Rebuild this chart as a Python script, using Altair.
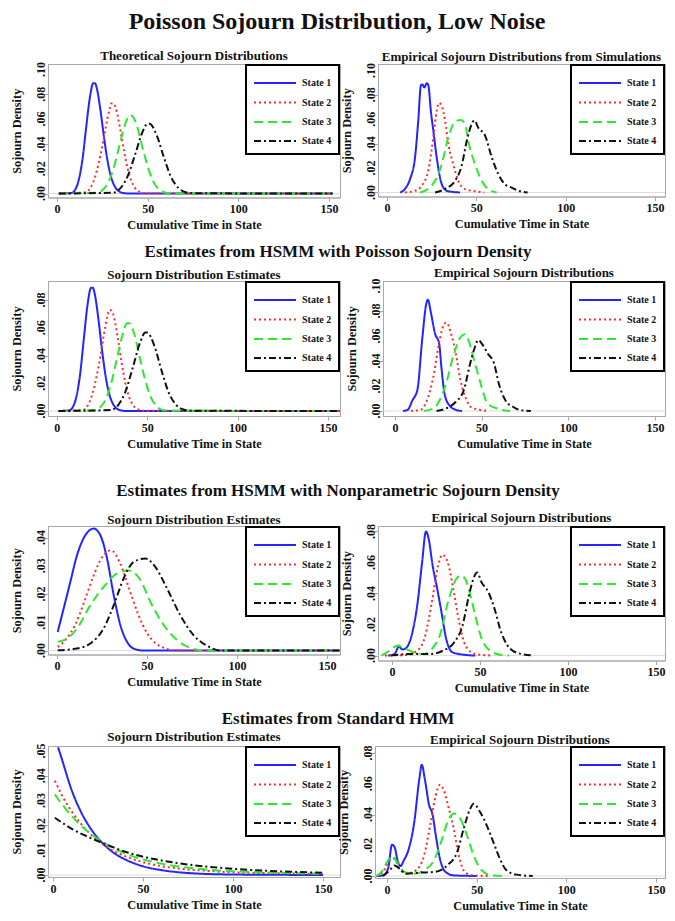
import altair as alt
import pandas as pd

SERIF = "Liberation Serif"
STATES = ["State 1", "State 2", "State 3", "State 4"]
COLORS = ["#2424ff", "#ff2a2a", "#2ee82e", "#111111"]
DASHES = [[1, 0], [2, 3], [9, 5], [7, 3, 2, 3]]

MAIN_TITLE = "Poisson Sojourn Distribution, Low Noise"
SECTION_TITLES = ["Estimates from HSMM with Poisson Sojourn Density",
                  "Estimates from HSMM with Nonparametric Sojourn Density",
                  "Estimates from Standard HMM"]
PANEL_TITLES = ["Theoretical Sojourn Distributions",
                "Empirical Sojourn Distributions from Simulations",
                "Sojourn Distribution Estimates", "Empirical Sojourn Distributions",
                "Sojourn Distribution Estimates", "Empirical Sojourn Distributions",
                "Sojourn Distribution Estimates", "Empirical Sojourn Distributions"]
X_TICKS = [0, 50, 100, 150]
Y_TICKS_10 = [0, 0.02, 0.04, 0.06, 0.08, 0.10]
Y_TICKS_08 = [0, 0.02, 0.04, 0.06, 0.08]
Y_TICKS_04 = [0, 0.01, 0.02, 0.03, 0.04]
Y_TICKS_05 = [0, 0.01, 0.02, 0.03, 0.04, 0.05]

# ---- Panel 1: theoretical
P1_S1_X = [1, 8, 10, 12, 14, 16, 18, 20, 21, 22, 24, 26, 28, 30, 32, 34, 37, 40, 152]
P1_S1_Y = [0, 0.0005, 0.003, 0.011, 0.027, 0.052, 0.076, 0.0888, 0.0888, 0.0846, 0.0669, 0.0446, 0.0254, 0.0125, 0.0054, 0.002, 0.0003, 0, 0]
P1_S2_X = [1, 16, 19, 21, 23, 25, 27, 29, 30, 31, 33, 35, 37, 39, 41, 43, 46, 49, 152]
P1_S2_Y = [0, 0.001, 0.0061, 0.0134, 0.0245, 0.0383, 0.0544, 0.0679, 0.0726, 0.0726, 0.0659, 0.0508, 0.0341, 0.0199, 0.0102, 0.0046, 0.0011, 0.0002, 0]
P1_S3_X = [1, 22, 25, 28, 31, 34, 37, 40, 41, 44, 47, 50, 53, 56, 59, 63, 152]
P1_S3_Y = [0, 0.0006, 0.0026, 0.0081, 0.0193, 0.036, 0.053, 0.0629, 0.0629, 0.055, 0.038, 0.022, 0.010, 0.0037, 0.001, 0.0002, 0]
P1_S4_X = [1, 31, 35, 39, 43, 47, 50, 51, 55, 59, 63, 67, 71, 76, 152]
P1_S4_Y = [0, 0.0007, 0.0043, 0.014, 0.031, 0.049, 0.0563, 0.0563, 0.047, 0.029, 0.013, 0.0045, 0.0011, 0.0002, 0]

# ---- Panel 2: empirical from simulations
P2_S1_X = [7.3, 10.1, 12.9, 15.7, 17.5, 19.0, 19.8, 20.9, 22.2, 23.1, 24.6, 25.9, 27.8, 29.7, 31.5, 34.3, 40.9]
P2_S1_Y = [0, 0.003, 0.011, 0.029, 0.059, 0.088, 0.0885, 0.086, 0.0896, 0.088, 0.066, 0.051, 0.029, 0.012, 0.004, 0.001, 0]
P2_S2_X = [10, 15.7, 19.4, 23.1, 25.9, 27.8, 29.1, 30.6, 32.5, 34.3, 37.1, 39.9, 43.7, 49.3, 54.5]
P2_S2_Y = [0, 0.0014, 0.0055, 0.018, 0.045, 0.067, 0.0734, 0.071, 0.059, 0.040, 0.023, 0.0096, 0.0027, 0.001, 0]
P2_S3_X = [18.5, 23.1, 26.9, 30.6, 34.3, 38.1, 41.4, 43.7, 45.5, 49.3, 53, 56.7, 61.4]
P2_S3_Y = [0, 0.003, 0.0096, 0.023, 0.045, 0.058, 0.0595, 0.056, 0.042, 0.023, 0.0096, 0.0027, 0]
P2_S4_X = [26.9, 32.5, 38.1, 41.8, 44.6, 47.4, 48.9, 51.1, 54.9, 58.6, 62.3, 66, 69.8, 73.5, 78.7]
P2_S4_Y = [0, 0.003, 0.0096, 0.022, 0.042, 0.056, 0.059, 0.053, 0.0466, 0.029, 0.015, 0.0068, 0.004, 0.0014, 0]

# ---- Panel 3: HSMM Poisson estimates
P3_S1_X = [1, 7, 9, 11, 13, 15, 17, 19, 20, 21, 23, 25, 27, 29, 31, 33, 36, 39, 156.5]
P3_S1_Y = [0, 0.0005, 0.003, 0.011, 0.027, 0.052, 0.076, 0.0888, 0.0888, 0.0846, 0.0669, 0.0446, 0.0254, 0.0125, 0.0054, 0.002, 0.0003, 0, 0]
P3_S2_X = [1, 15, 18, 20, 22, 24, 26, 28, 29, 30, 32, 34, 36, 38, 40, 42, 45, 48, 156.5]
P3_S2_Y = [0, 0.001, 0.0061, 0.0134, 0.0245, 0.0383, 0.0544, 0.0679, 0.0726, 0.0726, 0.0659, 0.0508, 0.0341, 0.0199, 0.0102, 0.0046, 0.0011, 0.0002, 0]
P3_S3_X = [1, 21, 24, 27, 30, 33, 36, 39, 40, 43, 46, 49, 52, 55, 58, 62, 156.5]
P3_S3_Y = [0, 0.0006, 0.0026, 0.0081, 0.0193, 0.036, 0.053, 0.0632, 0.0632, 0.055, 0.038, 0.022, 0.010, 0.0037, 0.001, 0.0002, 0]
P3_S4_X = [1, 30, 34, 38, 42, 46, 49, 50, 54, 58, 62, 66, 70, 75, 156.5]
P3_S4_Y = [0, 0.0007, 0.0043, 0.014, 0.031, 0.049, 0.0565, 0.0565, 0.047, 0.029, 0.013, 0.0045, 0.0011, 0.0002, 0]

# ---- Panel 4: empirical (Poisson HSMM)
P4_S1_X = [4.6, 7.4, 10.1, 12.9, 15.7, 18.1, 19.0, 20.7, 23.1, 25.5, 26.8, 28.6, 31.4, 35.0, 38.7]
P4_S1_Y = [0, 0.001, 0.0086, 0.0166, 0.057, 0.086, 0.089, 0.079, 0.062, 0.054, 0.035, 0.0139, 0.0045, 0.001, 0]
P4_S2_X = [9.2, 14.8, 18.5, 22.1, 25.8, 28.6, 29.9, 32.3, 35.1, 37.8, 40.6, 44.3, 53.5]
P4_S2_Y = [0, 0.001, 0.0086, 0.027, 0.057, 0.070, 0.0706, 0.062, 0.046, 0.0246, 0.0112, 0.0027, 0]
P4_S3_X = [16.6, 22.1, 25.8, 29.5, 34.1, 37.8, 40.2, 42.4, 45.2, 48.9, 53.5, 59.0, 66.4]
P4_S3_Y = [0, 0.002, 0.0086, 0.022, 0.046, 0.059, 0.0615, 0.0567, 0.043, 0.0246, 0.0059, 0.002, 0]
P4_S4_X = [24, 29.5, 35, 39.7, 43.4, 46.1, 48, 50.7, 53.5, 57.2, 59.9, 63.7, 68.3, 72.9, 78.4]
P4_S4_Y = [0, 0.002, 0.0072, 0.0166, 0.038, 0.051, 0.0567, 0.0527, 0.046, 0.038, 0.022, 0.0086, 0.0032, 0.0005, 0]

# ---- Panel 5: HSMM nonparametric estimates
P5_S1_X = [0.4, 3.7, 7.4, 11.1, 15.7, 20.4, 24.1, 27.8, 31.5, 35.2, 38.9, 42.6, 48, 157]
P5_S1_Y = [0.0066, 0.0149, 0.0243, 0.0337, 0.0408, 0.0432, 0.0408, 0.0326, 0.0196, 0.009, 0.0031, 0.0007, 0, 0]
P5_S2_X = [0.4, 5, 10, 15, 20, 25, 30, 35, 40, 45, 50, 55, 60, 66, 157]
P5_S2_Y = [0.0013, 0.004, 0.009, 0.017, 0.026, 0.033, 0.0355, 0.031, 0.022, 0.013, 0.0062, 0.0025, 0.0008, 0, 0]
P5_S3_X = [0.4, 5.6, 11.1, 18.5, 25.9, 33.3, 39.8, 46.3, 51.9, 59.3, 66.7, 74.1, 81.5, 157]
P5_S3_Y = [0.0031, 0.0042, 0.0078, 0.016, 0.0225, 0.0272, 0.0283, 0.025, 0.0172, 0.009, 0.0037, 0.0009, 0, 0]
P5_S4_X = [0.4, 11.1, 18.5, 25.9, 31.5, 37, 42.6, 49.1, 54.6, 61.1, 68.5, 75.9, 83.3, 90.7, 157]
P5_S4_Y = [0.0001, 0.0007, 0.0025, 0.0078, 0.016, 0.0255, 0.0314, 0.0326, 0.0296, 0.022, 0.0125, 0.0054, 0.0017, 0, 0]

# ---- Panel 6: empirical (nonparametric HSMM)
P6_S1_X = [-2.2, 1.5, 3.9, 6.0, 7.9, 11.6, 14.3, 17.1, 19.3, 20.7, 23.1, 25.7, 28.1, 30.8, 34.5, 41.8, 47.3]
P6_S1_Y = [0, 0.001, 0.0058, 0.0039, 0.0047, 0.015, 0.032, 0.060, 0.080, 0.076, 0.058, 0.043, 0.028, 0.0107, 0.002, 0.0004, 0]
P6_S2_X = [-4, 8.8, 14.3, 18.9, 22.6, 26.2, 28.6, 31.7, 34.5, 38.2, 41.8, 47.3, 56.5]
P6_S2_Y = [0, 0.0004, 0.003, 0.0129, 0.034, 0.058, 0.065, 0.060, 0.045, 0.0215, 0.0064, 0.001, 0]
P6_S3_X = [-5.9, -1.3, 3.3, 7.0, 12.5, 18.0, 23.5, 27.2, 31.7, 36.3, 39.1, 41.8, 44.6, 47.3, 51.0, 55.6, 62.0, 66.6]
P6_S3_Y = [0, 0.0032, 0.0064, 0.0047, 0.002, 0.001, 0.0054, 0.0129, 0.034, 0.049, 0.0515, 0.049, 0.0386, 0.0258, 0.0107, 0.0032, 0.0004, 0]
P6_S4_X = [-0.4, 10.6, 21.7, 29.0, 35.4, 40.0, 43.7, 46.4, 48.3, 51.0, 54.7, 58.3, 62.0, 65.7, 71.2, 80.4]
P6_S4_Y = [0, 0.001, 0.001, 0.0032, 0.0086, 0.019, 0.0386, 0.050, 0.0536, 0.047, 0.041, 0.030, 0.015, 0.0064, 0.0017, 0]

# ---- Panel 7: standard HMM estimates (State 1 enters through the top edge)
P7_S1_X = [2.8, 5, 10, 15, 20, 25, 30, 35, 40, 50, 60, 70, 80, 100, 120, 150]
P7_S1_Y = [0.0515, 0.0465, 0.0349, 0.0262, 0.0197, 0.0148, 0.0111, 0.0083, 0.0063, 0.0035, 0.002, 0.0011, 0.0006, 0.0002, 0.0001, 0]
P7_S2_X = [1, 5, 10, 15, 20, 25, 30, 40, 50, 60, 70, 85, 100, 125, 150]
P7_S2_Y = [0.038, 0.0321, 0.026, 0.0211, 0.0171, 0.0139, 0.0112, 0.0076, 0.0052, 0.0036, 0.0026, 0.0017, 0.0011, 0.0007, 0.0005]
P7_S3_X = [1, 5, 10, 15, 20, 25, 30, 40, 50, 60, 70, 85, 100, 125, 150]
P7_S3_Y = [0.0325, 0.0285, 0.0241, 0.0203, 0.0171, 0.0145, 0.0122, 0.0087, 0.0063, 0.0046, 0.0034, 0.0022, 0.0015, 0.0009, 0.0005]
P7_S4_X = [1, 10, 20, 30, 40, 50, 60, 70, 85, 100, 125, 150]
P7_S4_Y = [0.0231, 0.0188, 0.0152, 0.0122, 0.0094, 0.0074, 0.0059, 0.0047, 0.0034, 0.0025, 0.0015, 0.0009]

# ---- Panel 8: empirical (standard HMM)
P8_S1_X = [-5.9, -2.2, 0.6, 2.8, 4.2, 6.1, 7.5, 9.4, 11.9, 15.2, 18.0, 19.4, 21.1, 23.5, 25.3, 27.2, 29.5, 32.7, 37.2, 50.1]
P8_S1_Y = [0, 0.0004, 0.0048, 0.0204, 0.0189, 0.0091, 0.0065, 0.0102, 0.0167, 0.035, 0.063, 0.0724, 0.063, 0.046, 0.0406, 0.0265, 0.0113, 0.0026, 0.0004, 0]
P8_S2_X = [-5.9, -2.2, 1.5, 3.9, 7.0, 10.6, 16.1, 20.7, 24.4, 27.2, 29.5, 31.7, 34.5, 37.2, 40.0, 43.7, 48.3, 57.4]
P8_S2_Y = [0, 0.0026, 0.0102, 0.0113, 0.0048, 0.0015, 0.0037, 0.0134, 0.035, 0.0525, 0.0594, 0.0557, 0.0438, 0.0308, 0.0134, 0.0022, 0.0004, 0]
P8_S3_X = [-5.9, -3.1, 0.6, 2.8, 6.1, 9.7, 15.2, 20.7, 26.2, 30.8, 34.5, 37.6, 40.9, 44.6, 48.3, 52.8, 58.3, 66.6]
P8_S3_Y = [0, 0.0026, 0.0102, 0.013, 0.008, 0.0026, 0.0015, 0.0037, 0.0102, 0.0243, 0.0373, 0.0406, 0.0373, 0.0265, 0.0134, 0.0037, 0.0004, 0]
P8_S4_X = [-2.2, 1.5, 4.2, 7.0, 10.6, 18.9, 26.2, 33.6, 39.1, 42.8, 46.4, 48.3, 51.9, 55.6, 59.3, 62.9, 66.6, 72.1, 81.3]
P8_S4_Y = [0, 0.0037, 0.0069, 0.0048, 0.0015, 0.0022, 0.0026, 0.0069, 0.0156, 0.031, 0.0438, 0.047, 0.0416, 0.033, 0.0221, 0.0113, 0.0037, 0.0009, 0]

ONE = pd.DataFrame({"k": [0]})
LEG_W, LEG_H = 94, 90
LEG_ROWS = [19, 38.5, 58, 77]
FRAME = "#a8a8a8"
LABEL_EXPR = "replace(format(datum.y, '.2f'), '0.', '.')"


def make_df(series):
    rows = []
    for i, (xs, ys) in enumerate(series):
        for x, y in zip(xs, ys):
            rows.append({"state": STATES[i], "x": x, "y": y})
    return pd.DataFrame(rows)


def legend_layers(w):
    L = w - LEG_W
    layers = [alt.Chart(ONE).mark_rect(fill="white", stroke="black", strokeWidth=2).encode(
        x=alt.value(L), x2=alt.value(w - 1), y=alt.value(1), y2=alt.value(LEG_H))]
    for i, s in enumerate(STATES):
        yy = LEG_ROWS[i]
        layers.append(alt.Chart(ONE).mark_rule(strokeWidth=2, color=COLORS[i], strokeDash=DASHES[i]).encode(
            x=alt.value(L + 8), x2=alt.value(L + 50), y=alt.value(yy)))
        layers.append(alt.Chart(ONE).mark_text(text=s, align="left", baseline="middle", font=SERIF,
                                               fontWeight="bold", fontSize=10, color="#111").encode(
            x=alt.value(L + 56), y=alt.value(yy)))
    return layers


def panel(series, title, xdom, ydom, yvals, w, h):
    df = make_df(series)
    yax = alt.Axis(values=yvals, title="Sojourn Density", labels=False)
    yscale = alt.Scale(domain=ydom, nice=False, zero=False)
    zero = alt.Chart(ONE).mark_rule(color="#dcdcdc", strokeWidth=1).encode(y=alt.datum(0))
    lines = alt.Chart(df).mark_line(strokeWidth=2, clip=True, interpolate="monotone").encode(
        x=alt.X("x:Q", scale=alt.Scale(domain=xdom, nice=False, zero=False),
                axis=alt.Axis(values=X_TICKS, format="d", title="Cumulative Time in State",
                              labelOverlap=False)),
        y=alt.Y("y:Q", scale=yscale, axis=yax),
        color=alt.Color("state:N", scale=alt.Scale(domain=STATES, range=COLORS), legend=None),
        strokeDash=alt.StrokeDash("state:N", scale=alt.Scale(domain=STATES, range=DASHES), legend=None),
    )
    ylabels = alt.Chart(pd.DataFrame({"y": yvals})).transform_calculate(
        lab=LABEL_EXPR
    ).mark_text(angle=270, align="center", baseline="alphabetic", font=SERIF, fontWeight="bold",
                fontSize=12, color="#111").encode(
        x=alt.value(-3), y=alt.Y("y:Q", scale=yscale, axis=yax), text="lab:N")
    return alt.layer(zero, lines, ylabels, *legend_layers(w)).properties(
        width=w, height=h,
        title=alt.TitleParams(title, offset=-1, frame="group"),
        view=alt.ViewBackground(stroke=FRAME, strokeWidth=1),
    )


TW = 600


def text_chart(txt, size, h, y, xc):
    return alt.Chart(ONE).mark_text(text=txt, font=SERIF, fontWeight="bold", fontSize=size,
                                    align="center", baseline="middle", color="#111").encode(
        x=alt.value(xc), y=alt.value(y)).properties(width=TW, height=h)


WL = 292

p1 = panel([(P1_S1_X, P1_S1_Y), (P1_S2_X, P1_S2_Y), (P1_S3_X, P1_S3_Y), (P1_S4_X, P1_S4_Y)],
           PANEL_TITLES[0], [-4.96, 156.1], [-0.0032, 0.1044], Y_TICKS_10, WL, 133.5)
p2 = panel([(P2_S1_X, P2_S1_Y), (P2_S2_X, P2_S2_Y), (P2_S3_X, P2_S3_Y), (P2_S4_X, P2_S4_Y)],
           PANEL_TITLES[1], [-5.04, 155.6], [-0.0033, 0.1053], Y_TICKS_10, 287, 132.5)
p3 = panel([(P3_S1_X, P3_S1_Y), (P3_S2_X, P3_S2_Y), (P3_S3_X, P3_S3_Y), (P3_S4_X, P3_S4_Y)],
           PANEL_TITLES[2], [-4.8, 156.6], [-0.0036, 0.0937], Y_TICKS_08, WL, 135)
p4 = panel([(P4_S1_X, P4_S1_Y), (P4_S2_X, P4_S2_Y), (P4_S3_X, P4_S3_Y), (P4_S4_X, P4_S4_Y)],
           PANEL_TITLES[3], [-6.9, 155.8], [-0.004, 0.104], Y_TICKS_10, 282, 135)
p5 = panel([(P5_S1_X, P5_S1_Y), (P5_S2_X, P5_S2_Y), (P5_S3_X, P5_S3_Y), (P5_S4_X, P5_S4_Y)],
           PANEL_TITLES[4], [-5, 157.2], [-0.0014, 0.0441], Y_TICKS_04, WL, 128.5)
p6 = panel([(P6_S1_X, P6_S1_Y), (P6_S2_X, P6_S2_Y), (P6_S3_X, P6_S3_Y), (P6_S4_X, P6_S4_Y)],
           PANEL_TITLES[5], [-7.95, 155.1], [-0.0032, 0.0835], Y_TICKS_08, 287, 134.5)
p7 = panel([(P7_S1_X, P7_S1_Y), (P7_S2_X, P7_S2_Y), (P7_S3_X, P7_S3_Y), (P7_S4_X, P7_S4_Y)],
           PANEL_TITLES[6], [-2.8, 159.4], [-0.0008, 0.052], Y_TICKS_05, WL, 131)
p8 = panel([(P8_S1_X, P8_S1_Y), (P8_S2_X, P8_S2_Y), (P8_S3_X, P8_S3_Y), (P8_S4_X, P8_S4_Y)],
           PANEL_TITLES[7], [-6.69, 155.0], [-0.0013, 0.0846], Y_TICKS_08, 290, 132)

row1 = alt.hconcat(p1, p2, spacing=38, bounds="flush")
row2 = alt.hconcat(p3, p4, spacing=43, bounds="flush")
row3 = alt.hconcat(p5, p6, spacing=38, bounds="flush")
row4 = alt.hconcat(p7, p8, spacing=35, bounds="flush")

chart = alt.vconcat(
    text_chart(MAIN_TITLE, 24, 37, 11, 289), row1,
    text_chart(SECTION_TITLES[0], 17, 31.5, 19, 290), row2,
    text_chart(SECTION_TITLES[1], 17, 59.5, 40, 290), row3,
    text_chart(SECTION_TITLES[2], 17, 33, 22.5, 290), row4,
    spacing=0,
).properties(
    autosize=alt.AutoSizeParams(type="none"),
    padding={"left": 40, "top": 3, "right": 619, "bottom": 902},
).configure_view(
    stroke="transparent"
).configure_axis(
    labelFont=SERIF, labelFontWeight="bold", labelFontSize=12, labelColor="#111",
    titleFont=SERIF, titleFontWeight="bold", titleFontSize=12.3, titleColor="#111",
    domainColor=FRAME, tickColor=FRAME, tickSize=4, grid=False,
    labelFlush=False,
).configure_axisX(
    labelPadding=2, titlePadding=4
).configure_axisY(
    titlePadding=20.5
).configure_title(
    font=SERIF, fontWeight="bold", fontSize=13, color="#111", anchor="middle"
)

chart.save("out.html", embed_options={"renderer": "svg", "actions": False})
